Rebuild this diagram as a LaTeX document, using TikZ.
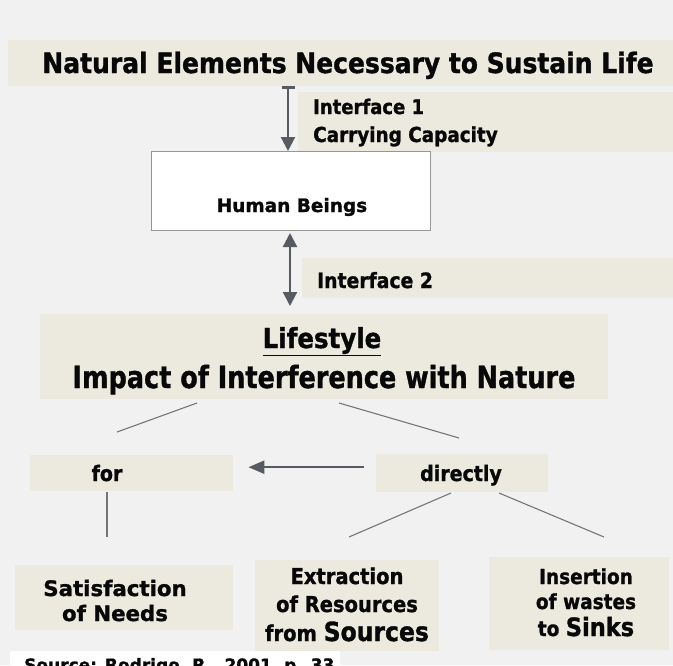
\documentclass[tikz,border=0pt]{standalone}
\usepackage{graphicx}
\usepackage{fontspec}
\setmainfont{DejaVu Sans}
\newfontfamily\heavy[FakeBold=1.3]{DejaVu Sans Bold}
\usetikzlibrary{arrows.meta,calc}

\definecolor{paper}{RGB}{241,241,241}
\definecolor{band}{RGB}{236,233,223}
\definecolor{ink}{RGB}{8,8,8}
\definecolor{linkgray}{RGB}{118,118,122}
\definecolor{arrowgray}{RGB}{88,90,98}
\definecolor{boxedge}{RGB}{150,150,150}

% slightly taller lettering
\newcommand{\tall}[1]{\scalebox{1}[1.12]{#1}}

\tikzset{
  x=1pt, y=-1pt,
  panel/.style={fill=band, draw=none, inner sep=0pt, anchor=north west},
  whitebox/.style={fill=white, draw=boxedge, line width=1pt, inner sep=0pt, anchor=north west},
  txt/.style={text=ink, inner sep=0pt, anchor=base},
  lefttxt/.style={text=ink, inner sep=0pt, anchor=base west},
  link/.style={draw=linkgray, line width=1.1pt},
  bigarrow/.style={draw=arrowgray, line width=2.2pt},
  tri/.tip={Triangle[length=14pt, width=14pt]},
  capbar/.tip={Bar[width=13pt]},
}

\begin{document}
\begin{tikzpicture}
  % canvas
  \fill[paper] (0,0) rectangle (673,665);
  \useasboundingbox (0,0) rectangle (673,665);

  % title band
  \node[panel, minimum width=665pt, minimum height=46pt] (nature) at (8,40) {};
  \node[txt, font=\heavy\fontsize{25}{30}\selectfont] (naturetext) at (348,73)
    {\tall{Natural Elements Necessary to Sustain Life}};

  % interface 1 label band
  \node[panel, minimum width=375pt, minimum height=60pt] (ifaceone) at (298,92) {};
  \node[lefttxt, font=\heavy\fontsize{18}{22}\selectfont] (ifaceonea) at (313,114) {\tall{Interface 1}};
  \node[lefttxt, font=\heavy\fontsize{18.4}{22}\selectfont] (ifaceoneb) at (313,142) {\tall{Carrying Capacity}};

  % human beings box
  \node[whitebox, minimum width=279pt, minimum height=79pt] (human) at (151,151) {};
  \node[txt, font=\heavy\fontsize{18.5}{22}\selectfont] (humantext) at (292,212) {Human Beings};

  % interface 2 label band
  \node[panel, minimum width=371pt, minimum height=40pt] (ifacetwo) at (302,258) {};
  \node[lefttxt, font=\heavy\fontsize{18.8}{22}\selectfont] (ifacetwotext) at (317,288) {\tall{Interface 2}};

  % lifestyle box
  \node[panel, minimum width=568pt, minimum height=85pt] (life) at (40,314) {};
  \node[txt, font=\heavy\fontsize{24.5}{28}\selectfont] (lifetitle) at (322,348)
    {\tall{\underline{Lifestyle}}};
  \node[txt, font=\heavy\fontsize{25.5}{30}\selectfont] (impact) at (324,388)
    {\scalebox{1}[1.2]{Impact of Interference with Nature}};

  % middle row
  \node[panel, minimum width=203pt, minimum height=36pt] (for) at (30,455) {};
  \node[txt, font=\heavy\fontsize{19}{22}\selectfont] (fortext) at (107,481) {\tall{for}};
  \node[panel, minimum width=172pt, minimum height=38pt] (directly) at (376,454) {};
  \node[txt, font=\heavy\fontsize{19}{22}\selectfont] (directlytext) at (461,481) {\tall{directly}};

  % bottom row
  \node[panel, minimum width=218pt, minimum height=65pt] (needs) at (15,565) {};
  \node[txt, font=\heavy\fontsize{21.3}{24}\selectfont] (needsa) at (115,596) {Satisfaction};
  \node[txt, font=\heavy\fontsize{21.3}{24}\selectfont] (needsb) at (115,621) {of Needs};

  \node[panel, minimum width=184pt, minimum height=91pt] (sources) at (255,560) {};
  \node[txt, font=\heavy\fontsize{19.5}{24}\selectfont] (sourcesa) at (347,584) {\tall{Extraction}};
  \node[txt, font=\heavy\fontsize{19.5}{24}\selectfont] (sourcesb) at (347,612) {\tall{of Resources}};
  \node[txt, font=\heavy\fontsize{19.5}{24}\selectfont] (sourcesc) at (347,641)
    {\tall{from {\fontsize{23.5}{28}\selectfont Sources}}};

  \node[panel, minimum width=180pt, minimum height=93pt] (sinks) at (489,557) {};
  \node[txt, font=\heavy\fontsize{18.5}{24}\selectfont] (sinksa) at (586,584) {\tall{Insertion}};
  \node[txt, font=\heavy\fontsize{18.5}{24}\selectfont] (sinksb) at (586,609) {\tall{of wastes}};
  \node[txt, font=\heavy\fontsize{18.5}{24}\selectfont] (sinksc) at (586,636)
    {\tall{to {\fontsize{22.5}{28}\selectfont Sinks}}};

  % source line, running past the lower edge
  \begin{scope}
    \clip (0,0) rectangle (673,665);
    \node[panel, fill=white, minimum width=330pt, minimum height=30pt] (credit) at (10,651) {};
    \node[lefttxt, font=\heavy\fontsize{17}{20}\selectfont] (credittext) at (24,671)
      {Source: Rodrigo, R., 2001, p. 33};
  \end{scope}

  % interface arrows
  \coordinate (axisone) at (288,0);
  \coordinate (axistwo) at (290,0);
  \draw[bigarrow, capbar-tri] (nature.south -| axisone) -- (human.north -| axisone);
  \draw[bigarrow, tri-tri, shorten <=2pt, shorten >=8pt] (human.south -| axistwo) -- (life.north -| axistwo);

  % branches under the lifestyle box
  \coordinate (la) at (197,403);
  \coordinate (lb) at (117,432);
  \coordinate (ra) at (339,403);
  \coordinate (rb) at (459,438);
  \draw[link] (la) -- (lb);
  \draw[link] (ra) -- (rb);

  % directly -> for
  \draw[bigarrow, -{Triangle[length=16pt, width=13pt]}, shorten <=12pt, shorten >=15pt]
    ([yshift=6pt]directly.west) -- ([yshift=6pt]for.east);

  % for -> satisfaction of needs
  \coordinate (fa) at (107,492);
  \coordinate (fb) at (107,537);
  \draw[link] (fa) -- (fb);

  % directly -> sources and sinks
  \coordinate (da) at (451,493);
  \coordinate (db) at (349,537);
  \coordinate (dc) at (499,493);
  \coordinate (dd) at (604,537);
  \draw[link] (da) -- (db);
  \draw[link] (dc) -- (dd);
\end{tikzpicture}
\end{document}
